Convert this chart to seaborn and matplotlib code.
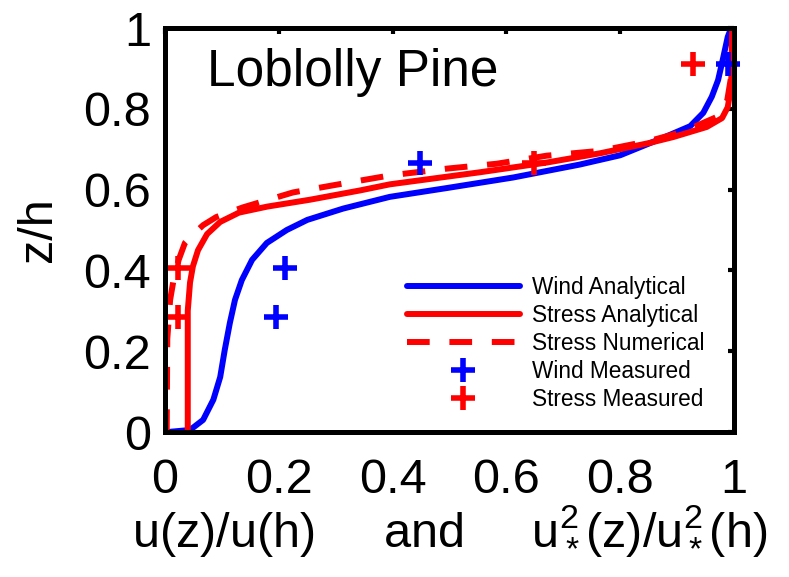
import matplotlib
matplotlib.use("Agg")
import matplotlib.pyplot as plt
import seaborn as sns
import pandas as pd
from matplotlib.lines import Line2D

# ---- data ----
wind_x = [0.005, 0.044, 0.067, 0.085, 0.097, 0.105, 0.114, 0.123, 0.135, 0.153, 0.179, 0.214,
          0.25, 0.313, 0.395, 0.496, 0.612, 0.729, 0.80, 0.875, 0.923, 0.946, 0.961, 0.972,
          0.98, 0.989, 0.995]
wind_z = [0.0, 0.005, 0.03, 0.08, 0.136, 0.203, 0.27, 0.327, 0.376, 0.426, 0.468, 0.50,
          0.525, 0.553, 0.582, 0.604, 0.63, 0.662, 0.685, 0.728, 0.757, 0.79, 0.83, 0.871,
          0.92, 0.978, 1.0]

stress_x = [0.040, 0.040, 0.044, 0.049, 0.058, 0.074, 0.097, 0.13, 0.18, 0.255, 0.343, 0.395,
            0.554, 0.671, 0.765, 0.85, 0.893, 0.952, 0.979, 0.989, 0.995, 0.996, 0.997]
stress_z = [0.0, 0.30, 0.37, 0.41, 0.45, 0.49, 0.52, 0.543, 0.558, 0.575, 0.598, 0.613,
            0.643, 0.667, 0.69, 0.715, 0.73, 0.755, 0.777, 0.804, 0.854, 0.94, 1.0]

numer_x = [0.003, 0.004, 0.009, 0.015, 0.024, 0.035, 0.05, 0.067, 0.09, 0.137, 0.225, 0.313,
           0.395, 0.496, 0.583, 0.671, 0.765, 0.85, 0.91, 0.97, 0.988, 0.995, 0.998]
numer_z = [0.0, 0.23, 0.327, 0.376, 0.426, 0.468, 0.49, 0.512, 0.532, 0.556, 0.593, 0.615,
           0.635, 0.652, 0.664, 0.684, 0.696, 0.72, 0.743, 0.78, 0.82, 0.88, 1.0]

wind_meas_x = [0.195, 0.211, 0.448, 0.989]
wind_meas_z = [0.284, 0.407, 0.667, 0.912]
stress_meas_x = [0.023, 0.023, 0.649, 0.928]
stress_meas_z = [0.284, 0.407, 0.667, 0.911]

labels = ["Wind Analytical", "Stress Analytical", "Stress Numerical",
          "Wind Measured", "Stress Measured"]
xticks = [0, 0.2, 0.4, 0.6, 0.8, 1]
xticklabels = ["0", "0.2", "0.4", "0.6", "0.8", "1"]
yticks = [0, 0.2, 0.4, 0.6, 0.8, 1]
yticklabels = ["0", "0.2", "0.4", "0.6", "0.8", "1"]

# ---- style ----
sns.set_theme(style="white")
plt.rcParams["font.family"] = ["Liberation Sans", "DejaVu Sans"]
plt.rcParams["mathtext.fontset"] = "custom"
plt.rcParams["mathtext.rm"] = "Liberation Sans"
plt.rcParams["mathtext.it"] = "Liberation Sans"
plt.rcParams["mathtext.bf"] = "Liberation Sans:bold"
plt.rcParams["lines.solid_joinstyle"] = "round"
plt.rcParams["lines.dash_joinstyle"] = "round"
plt.rcParams["text.color"] = "black"
plt.rcParams["axes.labelcolor"] = "black"
plt.rcParams["xtick.color"] = "black"
plt.rcParams["ytick.color"] = "black"

BLUE = (0, 0, 1)
RED = (1, 0, 0)
LW = 4.3
MS = 17
MEW = 4.0
DASH = (3.8, 3.3)

fig = plt.figure(figsize=(7.89, 5.77), dpi=100)
ax = fig.add_axes([165 / 789, 1 - 432 / 577, (734 - 165) / 789, (432 - 28) / 577])

df_w = pd.DataFrame({"x": wind_x, "z": wind_z})
df_s = pd.DataFrame({"x": stress_x, "z": stress_z})
df_n = pd.DataFrame({"x": numer_x, "z": numer_z})

sns.lineplot(data=df_w, x="x", y="z", sort=False, estimator=None, color=BLUE, lw=LW, ax=ax)
sns.lineplot(data=df_s, x="x", y="z", sort=False, estimator=None, color=RED, lw=LW, ax=ax)
sns.lineplot(data=df_n, x="x", y="z", sort=False, estimator=None, color=RED, lw=LW, ax=ax)
ax.lines[-1].set_dashes(DASH)

sns.scatterplot(x=wind_meas_x, y=wind_meas_z, marker="+", s=MS ** 2, color=BLUE,
                linewidth=MEW, ax=ax, zorder=5, clip_on=False)
sns.scatterplot(x=stress_meas_x, y=stress_meas_z, marker="+", s=MS ** 2, color=RED,
                linewidth=MEW, ax=ax, zorder=5, clip_on=False)

ax.set_xlim(0, 1)
ax.set_ylim(0, 1)
ax.set_xticks(xticks)
ax.set_xticklabels(xticklabels)
ax.set_yticks(yticks)
ax.set_yticklabels(yticklabels)

for sp in ax.spines.values():
    sp.set_linewidth(3.6)
    sp.set_color("black")
    sp.set_zorder(6)
ax.tick_params(direction="in", length=4, width=3, top=True, right=True,
               labelsize=35, colors="black")
ax.tick_params(axis="x", pad=19)
ax.tick_params(axis="y", pad=10)

ax.set_xlabel(r"u(z)/u(h)     and     u$_*^2$(z)/u$_*^2$(h)", fontsize=35, labelpad=0,
              color="black")
ax.set_ylabel("z/h", fontsize=35, labelpad=16, color="black")

ax.text(0.074, 0.891, "Loblolly Pine", transform=ax.transAxes, fontsize=37,
        ha="left", va="center", color="black")

handles = [
    Line2D([], [], color=BLUE, lw=LW),
    Line2D([], [], color=RED, lw=LW),
    Line2D([], [], color=RED, lw=LW, dashes=DASH),
    Line2D([], [], color=BLUE, ls="", marker="+", markersize=MS, mew=MEW),
    Line2D([], [], color=RED, ls="", marker="+", markersize=MS, mew=MEW),
]
leg = ax.legend(handles, labels, loc="upper left", bbox_to_anchor=(0.425, 0.387),
                frameon=False, fontsize=16.3, handlelength=5.0, handletextpad=0.55,
                labelspacing=0.22, borderpad=0, borderaxespad=0, numpoints=1)
for t in leg.get_texts():
    t.set_color("black")

fig.savefig("out.png", dpi=100)
